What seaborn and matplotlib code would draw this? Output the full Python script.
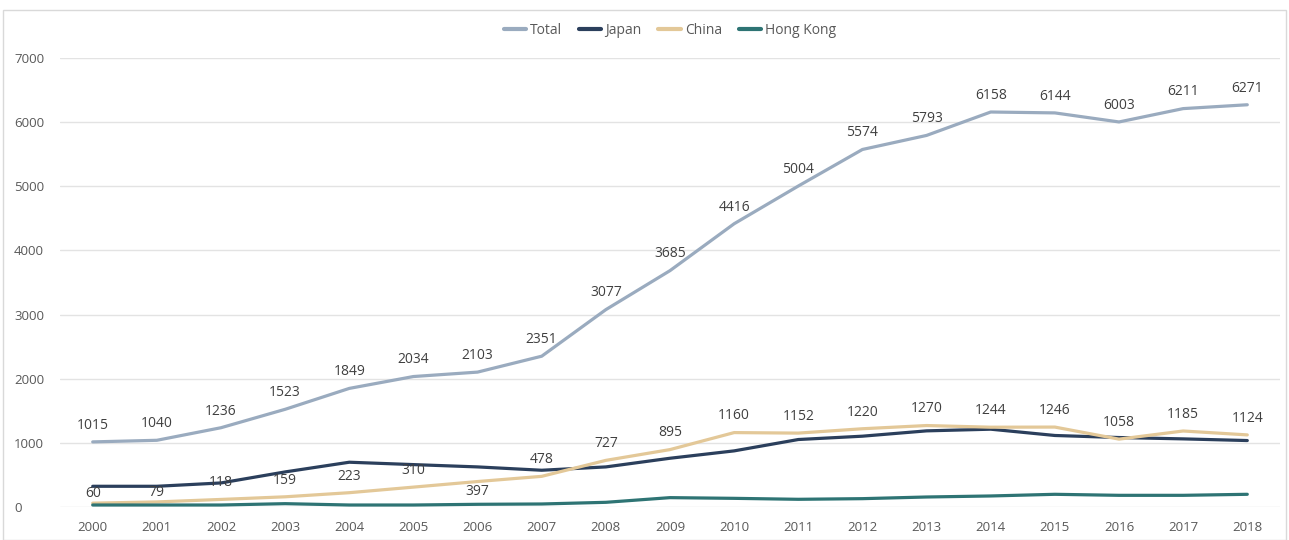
import pandas as pd
import matplotlib
matplotlib.use('Agg')
import matplotlib.pyplot as plt
import seaborn as sns

years = list(range(2000, 2019))
total = [1015, 1040, 1236, 1523, 1849, 2034, 2103, 2351, 3077, 3685, 4416,
         5004, 5574, 5793, 6158, 6144, 6003, 6211, 6271]
japan = [323, 323, 375, 547, 698, 661, 625, 573, 625, 760, 875,
         1052, 1104, 1187, 1213, 1115, 1083, 1062, 1036]
china = [60, 79, 118, 159, 223, 310, 397, 478, 727, 895, 1160,
         1152, 1220, 1270, 1244, 1246, 1058, 1185, 1124]
hong_kong = [31, 31, 31, 52, 31, 31, 42, 47, 73, 146, 135,
             120, 130, 156, 172, 198, 182, 182, 198]

series = {"Total": total, "Japan": japan, "China": china, "Hong Kong": hong_kong}
colors = {"Total": "#9aabbf", "Japan": "#2b3f5c", "China": "#e3c898", "Hong Kong": "#2e7474"}

df = pd.concat([pd.DataFrame({"year": years, "value": v, "series": k})
                for k, v in series.items()], ignore_index=True)

sns.set_theme(style="white")
plt.rcParams['font.family'] = ['Open Sans', 'DejaVu Sans']
text_col = "#595959"

fig = plt.figure(figsize=(12.89, 5.4), dpi=100)
ax = fig.add_axes([60 / 1289, 1 - 507 / 540, 1220 / 1289, 449 / 540])

sns.lineplot(data=df, x="year", y="value", hue="series", palette=colors,
             linewidth=2.3, ax=ax, legend=True)

ax.set_xlim(1999.49, 2018.51)
ax.set_ylim(0, 7000)
ax.set_xticks(years)
ax.set_yticks(range(0, 7001, 1000))
ax.tick_params(axis='both', colors=text_col, labelsize=9.5, length=0)
ax.tick_params(axis='x', pad=10)
ax.tick_params(axis='y', pad=33)
ax.yaxis.grid(True, color="#e3e3e3", linewidth=1)
ax.set_axisbelow(True)
for s in ax.spines.values():
    s.set_visible(False)
ax.set_xlabel("")
ax.set_ylabel("")
for lbl in ax.get_yticklabels():
    lbl.set_horizontalalignment('left')

# data labels for Total and China (a few China labels nudged like in the original)
for x, v in zip(years, total):
    ax.annotate(str(v), (x, v), xytext=(0, 12), textcoords='offset points',
                ha='center', va='center', fontsize=10, color="#404040")
china_nudge = {2000: 7, 2001: 7, 2006: -7}
for x, v in zip(years, china):
    dy = china_nudge.get(x, 12)
    ax.annotate(str(v), (x, v), xytext=(0, dy), textcoords='offset points',
                ha='center', va='center', fontsize=10, color="#404040")

leg = ax.legend(loc='center', bbox_to_anchor=(0.5, 1.062), ncol=4, frameon=False,
                fontsize=10, handlelength=1.6, handletextpad=0.3, columnspacing=1.2,
                labelcolor=text_col)
for line in leg.get_lines():
    line.set_linewidth(3)

fig.patches.append(plt.Rectangle((3 / 1289, 0), 1283 / 1289, 1 - 10 / 540,
                                 transform=fig.transFigure, fill=False,
                                 edgecolor="#d9d9d9", linewidth=1))

fig.savefig("out.png", dpi=100)
